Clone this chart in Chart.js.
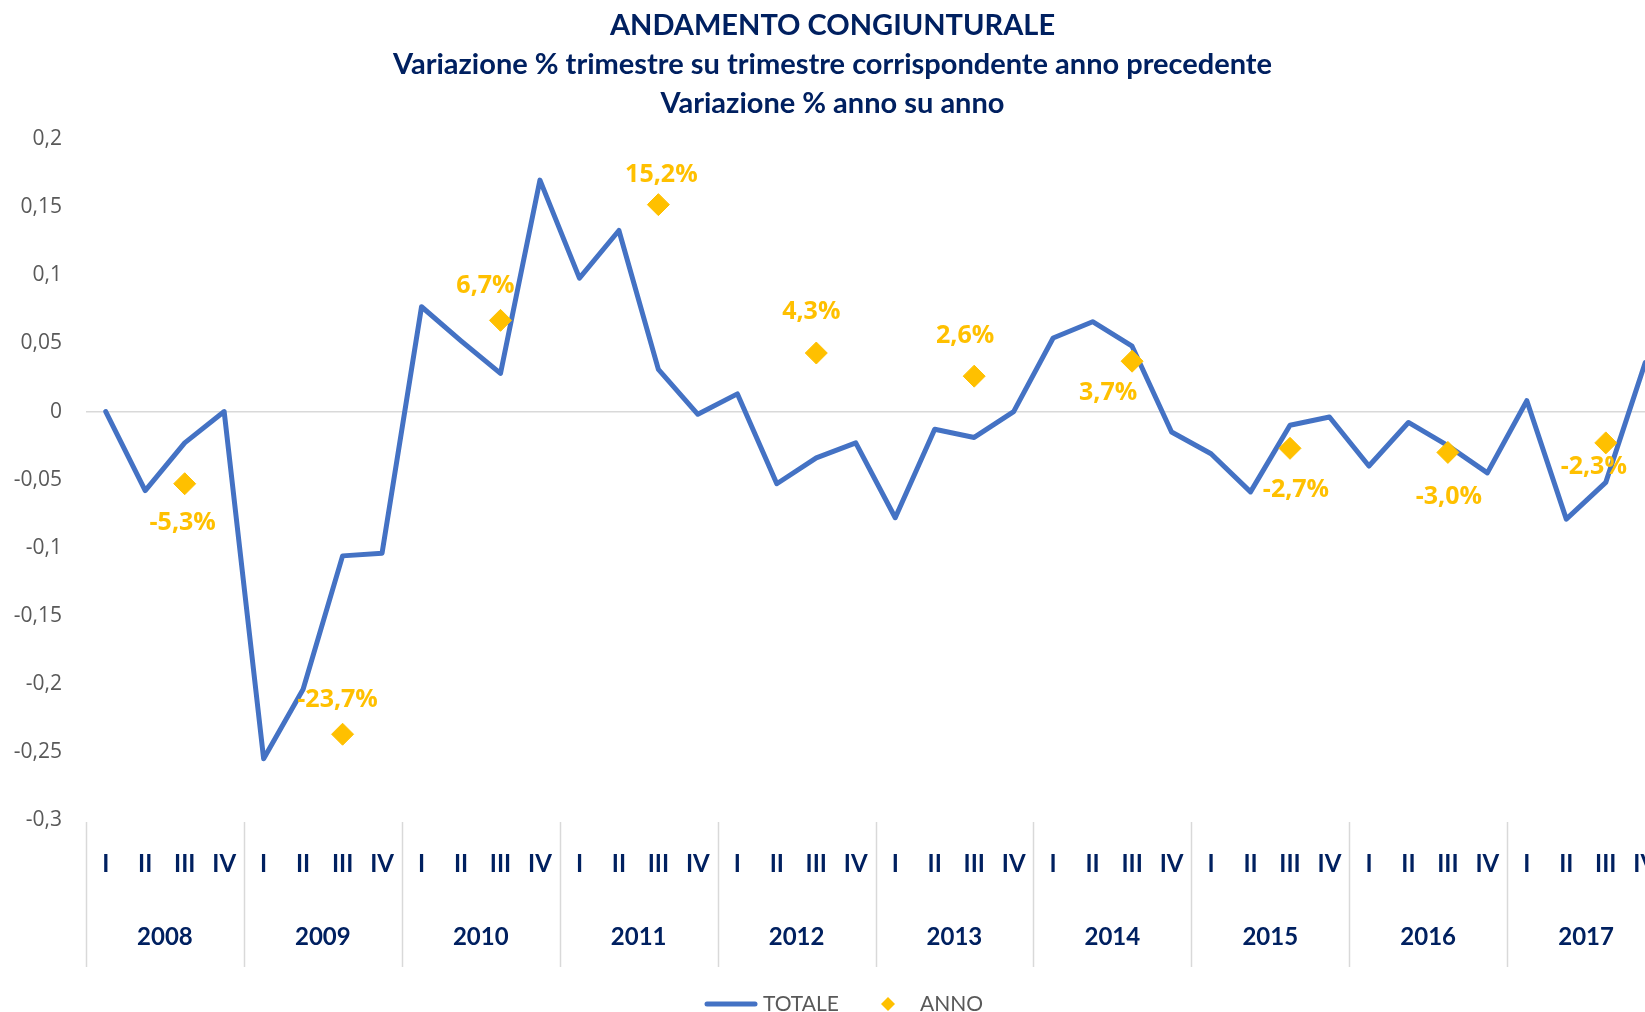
<!DOCTYPE html>
<html>
<head>
<meta charset="utf-8">
<title>Andamento congiunturale</title>
<script src="https://cdn.jsdelivr.net/npm/chart.js"></script>
<style>
  html, body { margin: 0; padding: 0; background: #fff; overflow: hidden; }
  #wrap { width: 1645px; height: 1012px; overflow: hidden; }
</style>
</head>
<body>
<div id="wrap"><canvas id="chart" width="1690" height="1012"></canvas></div>
<script>
/* ========= DATA ========= */

const years = ["2008", "2009", "2010", "2011", "2012", "2013", "2014", "2015", "2016", "2017"];
const quarters = ["I", "II", "III", "IV"];

// variazione % trimestre su trimestre corrispondente anno precedente
const totale = [
  0, -0.058, -0.023, 0,
  -0.255, -0.204, -0.106, -0.104,
  0.077, 0.052, 0.028, 0.170,
  0.098, 0.133, 0.031, -0.002,
  0.013, -0.053, -0.034, -0.023,
  -0.078, -0.013, -0.019, 0,
  0.054, 0.066, 0.048, -0.015,
  -0.031, -0.059, -0.010, -0.004,
  -0.040, -0.008, -0.025, -0.045,
  0.008, -0.079, -0.052, 0.036
];

// variazione % anno su anno (plotted on the III quarter)
const anno = [-0.053, -0.237, 0.067, 0.152, 0.043, 0.026, 0.037, -0.027, -0.030, -0.023];

const yMin = -0.3;
const yMax = 0.2;
const yStep = 0.05;

/* ========= STYLE ========= */

const NAVY = "#002060";
const BLUE = "#4472C4";
const GOLD = "#FFC000";
const GRAY = "#595959";
const LIGHT = "#D9D9D9";

// label position relative to its diamond (text centre)
const labelOffsets = [[-2, 39], [-5, -34], [-15, -34], [3, -30], [-5, -41],
                      [-9, -40], [-24, 32], [6, 42], [1, 44], [-12, 24]];

const labels = years.flatMap(() => quarters);
const annoData = labels.map(() => null);
anno.forEach((v, i) => { annoData[i * 4 + 2] = v; });

const pct = v => (v * 100).toFixed(1).replace(".", ",") + "%";

/* ========= PLUGINS ========= */

const yearSeparators = {
  id: "yearSeparators",
  beforeDatasetsDraw(chart) {
    const { ctx, chartArea } = chart;
    const x2 = chart.scales.x2;
    const half = (x2.getPixelForValue(1) - x2.getPixelForValue(0)) / 2;
    ctx.save();
    ctx.strokeStyle = LIGHT;
    ctx.lineWidth = 1.5;
    for (let k = 0; k <= years.length; k++) {
      const px = Math.round(x2.getPixelForValue(k) - half) + 0.5;
      ctx.beginPath();
      ctx.moveTo(px, chartArea.bottom + 2);
      ctx.lineTo(px, chartArea.bottom + 147);
      ctx.stroke();
    }
    ctx.restore();
  }
};

const annoLabels = {
  id: "annoLabels",
  afterDatasetsDraw(chart) {
    const { ctx } = chart;
    const meta = chart.getDatasetMeta(1);
    ctx.save();
    ctx.font = "bold 25px 'Open Sans'";
    ctx.fillStyle = GOLD;
    ctx.textAlign = "center";
    ctx.textBaseline = "middle";
    anno.forEach((v, i) => {
      const pt = meta.data[i * 4 + 2];
      const [dx, dy] = labelOffsets[i];
      ctx.fillText(pct(v), pt.x + dx, pt.y + dy);
    });
    ctx.restore();
  }
};

const bottomLegend = {
  id: "bottomLegend",
  afterDraw(chart) {
    const { ctx } = chart;
    const y = 1004;
    ctx.save();
    ctx.font = "21px Lato";
    ctx.fillStyle = GRAY;
    ctx.textBaseline = "middle";

    ctx.strokeStyle = BLUE;
    ctx.lineWidth = 5;
    ctx.lineCap = "round";
    ctx.beginPath();
    ctx.moveTo(707, y);
    ctx.lineTo(755, y);
    ctx.stroke();
    ctx.fillText(chart.data.datasets[0].label, 763, y);

    ctx.fillStyle = GOLD;
    ctx.beginPath();
    ctx.moveTo(888, y - 7);
    ctx.lineTo(895, y);
    ctx.lineTo(888, y + 7);
    ctx.lineTo(881, y);
    ctx.closePath();
    ctx.fill();
    ctx.fillStyle = GRAY;
    ctx.fillText(chart.data.datasets[1].label, 920, y);
    ctx.restore();
  }
};

/* ========= CHART ========= */

new Chart(document.getElementById("chart"), {
  type: "line",
  data: {
    labels: labels,
    datasets: [
      {
        label: "TOTALE",
        data: totale,
        borderColor: BLUE,
        borderWidth: 5,
        borderJoinStyle: "round",
        borderCapStyle: "round",
        pointRadius: 0,
        tension: 0,
        order: 1
      },
      {
        label: "ANNO",
        data: annoData,
        showLine: false,
        pointStyle: "rectRot",
        pointRadius: 11,
        backgroundColor: GOLD,
        borderColor: GOLD,
        borderWidth: 1,
        order: 0
      }
    ]
  },
  options: {
    responsive: false,
    animation: false,
    devicePixelRatio: 1,
    layout: { padding: { left: 0, right: 25, top: 0, bottom: 42 } },
    plugins: {
      legend: { display: false },
      tooltip: { enabled: false },
      title: {
        display: true,
        text: [
          "ANDAMENTO CONGIUNTURALE",
          "Variazione % trimestre su trimestre corrispondente anno precedente",
          "Variazione % anno su anno"
        ],
        color: NAVY,
        font: { family: "Lato", weight: "bold", size: 29, lineHeight: 1.34 },
        padding: { top: 6, bottom: 16.7 }
      }
    },
    scales: {
      y: {
        min: yMin,
        max: yMax,
        ticks: {
          stepSize: yStep,
          color: GRAY,
          padding: 24,
          font: { family: "'Open Sans'", size: 21 },
          callback: v => String(Math.round(v * 100) / 100).replace(".", ",")
        },
        grid: {
          drawTicks: false,
          lineWidth: 1.5,
          color: c => (c.tick && Math.abs(c.tick.value) < 1e-9 ? LIGHT : "transparent")
        },
        border: { display: false },
        afterFit: s => { s.width = 86; }
      },
      x: {
        offset: true,
        ticks: {
          autoSkip: false,
          maxRotation: 0,
          minRotation: 0,
          color: NAVY,
          padding: 30,
          font: { family: "Lato", weight: "bold", size: 24 }
        },
        grid: { display: false, drawTicks: false },
        border: { display: false },
        afterFit: s => { s.height = 80; }
      },
      x2: {
        type: "category",
        labels: years,
        position: "bottom",
        offset: true,
        ticks: {
          autoSkip: false,
          maxRotation: 0,
          minRotation: 0,
          color: NAVY,
          padding: 23,
          font: { family: "Lato", weight: "bold", size: 24 }
        },
        grid: { display: false, drawTicks: false },
        border: { display: false },
        afterFit: s => { s.height = 70; }
      }
    }
  },
  plugins: [yearSeparators, annoLabels, bottomLegend]
});
</script>
</body>
</html>
